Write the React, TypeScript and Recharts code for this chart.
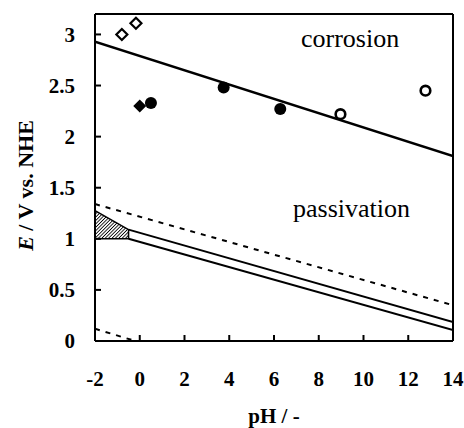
import React from 'react';
import {
  ComposedChart,
  Line,
  Area,
  Scatter,
  XAxis,
  YAxis,
  ReferenceLine,
} from 'recharts';

const FONT = "'Times New Roman', 'Liberation Serif', 'DejaVu Serif', serif";

// ticks
const xTicks = [-2, 0, 2, 4, 6, 8, 10, 12, 14];
const yTicks = [0, 0.5, 1, 1.5, 2, 2.5, 3];

// corrosion / passivation boundary (solid)
const boundary = [
  { x: -2, y: 2.93 },
  { x: 14, y: 1.81 },
];

// upper dashed line
const dashedUpper = [
  { x: -2, y: 1.34 },
  { x: 14, y: 0.35 },
];

// lower dashed line
const dashedLower = [
  { x: -2, y: 0.12 },
  { x: -0.2, y: 0.0 },
];

// double line
const doubleUpper = [
  { x: -0.5, y: 1.09 },
  { x: 14, y: 0.185 },
];
const doubleLower = [
  { x: -0.5, y: 1.0 },
  { x: 14, y: 0.108 },
];

// hatched region
const shaded = [
  { x: -2, lo: 1.0, hi: 1.275 },
  { x: -0.5, lo: 1.0, hi: 1.09 },
];
const shadedEdge = [
  { x: -2, y: 1.275 },
  { x: -0.5, y: 1.09 },
  { x: -0.5, y: 1.0 },
  { x: -2, y: 1.0 },
];

// measured points
const openDiamonds = [
  { x: -0.8, y: 3.0 },
  { x: -0.17, y: 3.11 },
];
const filledDiamonds = [{ x: 0.0, y: 2.3 }];
const filledCircles = [
  { x: 0.5, y: 2.33 },
  { x: 3.75, y: 2.48 },
  { x: 6.28, y: 2.27 },
];
const openCircles = [
  { x: 8.97, y: 2.22 },
  { x: 12.77, y: 2.45 },
];

const diamond = (filled: boolean) => (props: any) => {
  const { cx, cy } = props;
  const r = filled ? 6.5 : 5.5;
  return (
    <path
      d={`M${cx},${cy - r}L${cx + r},${cy}L${cx},${cy + r}L${cx - r},${cy}Z`}
      fill={filled ? '#000' : '#fff'}
      stroke="#000"
      strokeWidth={filled ? 0 : 2.2}
    />
  );
};

const circle = (filled: boolean) => (props: any) => {
  const { cx, cy } = props;
  return (
    <circle
      cx={cx}
      cy={cy}
      r={filled ? 6 : 4.8}
      fill={filled ? '#000' : '#fff'}
      stroke="#000"
      strokeWidth={filled ? 0 : 2.6}
    />
  );
};

const tickStyle = { fontFamily: FONT, fontSize: 21, fontWeight: 700, fill: '#000' };

export default function App() {
  return (
    <div style={{ position: 'absolute', left: 0, top: 0, background: '#fff', fontFamily: FONT }}>
      <ComposedChart
        width={464}
        height={428}
        margin={{ top: 14, right: 11, bottom: 0, left: 0 }}
        style={{ fontFamily: FONT }}
      >
        <defs>
          <pattern id="hatch" width="2.4" height="2.4" patternUnits="userSpaceOnUse" patternTransform="rotate(45)">
            <rect width="2.4" height="2.4" fill="#fff" />
            <line x1="0" y1="0" x2="0" y2="2.4" stroke="#000" strokeWidth="1.7" />
          </pattern>
        </defs>
        <XAxis
          type="number"
          dataKey="x"
          domain={[-2, 14]}
          ticks={xTicks}
          allowDataOverflow
          height={87}
          stroke="#000"
          strokeWidth={2}
          tickSize={-6}
          tickMargin={36}
          tick={tickStyle}
          label={{
            content: ({ viewBox }: any) => (
              <text
                x={viewBox.x + viewBox.width / 2}
                y={viewBox.y + 82}
                textAnchor="middle"
                style={{ fontFamily: FONT }}
                fontSize={21}
                fontWeight={700}
                fill="#000"
              >
                pH / -
              </text>
            ),
          }}
        />
        <YAxis
          type="number"
          dataKey="y"
          domain={[0, 3.2]}
          ticks={yTicks}
          allowDataOverflow
          width={95}
          stroke="#000"
          strokeWidth={2}
          tickSize={-6}
          tickMargin={26}
          tick={tickStyle}
          label={{
            content: ({ viewBox }: any) => {
              const cx = viewBox.x + 25;
              const cy = viewBox.y + viewBox.height / 2 + 8;
              return (
                <text
                  x={cx}
                  y={cy}
                  transform={`rotate(-90 ${cx} ${cy})`}
                  textAnchor="middle"
                  dominantBaseline="central"
                  style={{ fontFamily: FONT }}
                  fontSize={22}
                  fontWeight={700}
                  fill="#000"
                >
                  <tspan fontStyle="italic">E</tspan> / V vs. NHE
                </text>
              );
            },
          }}
        />
        <ReferenceLine y={3.2} stroke="#000" strokeWidth={2} />
        <ReferenceLine x={14} stroke="#000" strokeWidth={2} />

        <Area
          data={shaded}
          dataKey={(d: any) => [d.lo, d.hi]}
          type="linear"
          stroke="none"
          fill="url(#hatch)"
          fillOpacity={1}
          isAnimationActive={false}
        />
        <Line data={shadedEdge} dataKey="y" type="linear" stroke="#000" strokeWidth={1.5} dot={false} isAnimationActive={false} />
        <Line data={doubleUpper} dataKey="y" type="linear" stroke="#000" strokeWidth={2} dot={false} isAnimationActive={false} />
        <Line data={doubleLower} dataKey="y" type="linear" stroke="#000" strokeWidth={2} dot={false} isAnimationActive={false} />
        <Line data={dashedUpper} dataKey="y" type="linear" stroke="#000" strokeWidth={2} strokeDasharray="5 6" dot={false} isAnimationActive={false} />
        <Line data={dashedLower} dataKey="y" type="linear" stroke="#000" strokeWidth={2} strokeDasharray="5 6" dot={false} isAnimationActive={false} />
        <Line data={boundary} dataKey="y" type="linear" stroke="#000" strokeWidth={2.5} dot={false} isAnimationActive={false} />

        <Scatter data={openDiamonds} dataKey="y" shape={diamond(false)} isAnimationActive={false} />
        <Scatter data={filledDiamonds} dataKey="y" shape={diamond(true)} isAnimationActive={false} />
        <Scatter data={filledCircles} dataKey="y" shape={circle(true)} isAnimationActive={false} />
        <Scatter data={openCircles} dataKey="y" shape={circle(false)} isAnimationActive={false} />

        <text x={301} y={47} style={{ fontFamily: FONT }} fontSize={26} fill="#000">
          corrosion
        </text>
        <text x={293} y={217} style={{ fontFamily: FONT }} fontSize={26} fill="#000">
          passivation
        </text>
      </ComposedChart>
    </div>
  );
}
